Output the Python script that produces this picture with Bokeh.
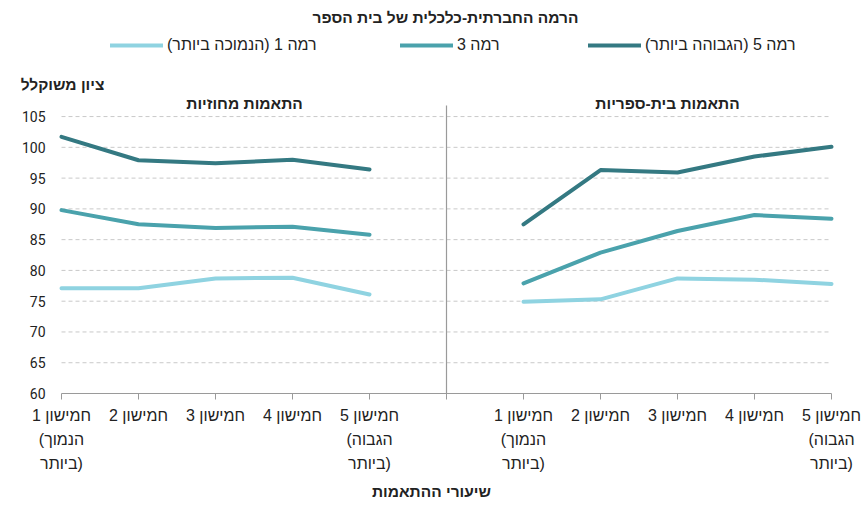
from bokeh.plotting import figure
from bokeh.models import Range1d, FixedTicker, Legend, LegendItem, Label
from bokeh.core.properties import value
from bokeh.embed import file_html
from bokeh.resources import INLINE

# ---- data ----
tick_labels = ["חמישון 1\n(הנמוך\nביותר)", "חמישון 2", "חמישון 3", "חמישון 4", "חמישון 5\n(הגבוה\nביותר)"]
panel_titles = ["התאמות מחוזיות", "התאמות בית-ספריות"]
series_names = ["רמה 1 (הנמוכה ביותר)", "רמה 3", "רמה 5 (הגבוהה ביותר)"]
district_l1 = [77.1, 77.1, 78.7, 78.8, 76.1]
district_l3 = [89.8, 87.5, 86.9, 87.1, 85.8]
district_l5 = [101.7, 97.9, 97.4, 98.0, 96.4]
school_l1 = [74.9, 75.3, 78.7, 78.5, 77.8]
school_l3 = [77.9, 82.9, 86.4, 89.0, 88.4]
school_l5 = [87.5, 96.3, 95.9, 98.5, 100.1]
y_ticks = [60, 65, 70, 75, 80, 85, 90, 95, 100, 105]

colors = ["#8fd3e1", "#4aa2ac", "#347982"]
FONT = "Liberation Sans"
TXT = "#222222"
LRI, PDI, RLM = "\u2066", "\u2069", "\u200f"

# ---- geometry (page pixels) ----
W, H = 862, 510
FL, FR = 61, 831              # x of first / last category
Y0_PX, PX_PER_Y = 393, 6.154  # y of value 60, pixels per unit
n = len(tick_labels)
ncat = 2 * n
PX_PER_X = (FR - FL) / ncat

def xd(px):   # page x -> data x
    return (px - FL) / PX_PER_X

def yd(py):   # page y -> data y
    return y_ticks[0] + (Y0_PX - py) / PX_PER_Y

left_x = list(range(n))
divider = n
right_x = [divider + 1 + i for i in range(n)]

p = figure(width=W, height=H, output_backend="svg", toolbar_location=None,
           x_range=Range1d(xd(0), xd(W)), y_range=Range1d(y_ticks[0], yd(0)),
           min_border_left=0, min_border_right=0, min_border_top=0, min_border_bottom=H - Y0_PX)
p.outline_line_color = None
p.xgrid.grid_line_color = None
p.ygrid.grid_line_color = None
p.yaxis.visible = False

# horizontal dashed grid lines over the category span
gy = y_ticks[1:]
p.segment(x0=[0] * len(gy), x1=[ncat] * len(gy), y0=gy, y1=gy,
          line_color="#c9c9c9", line_width=1, line_dash="4 3")

# y tick labels (overlay level so the bottom one is not clipped by the frame)
p.text(x=[xd(45)] * len(y_ticks), y=y_ticks, text=[str(t) for t in y_ticks],
       text_font=value("Roboto"), text_font_size="14px", text_color=TXT,
       text_align="right", text_baseline="middle", level="overlay")

# panel divider
p.segment(x0=[divider], y0=[y_ticks[0]], x1=[divider], y1=[yd(105)],
          line_color="#9a9a9a", line_width=1.2)

renderers = []
for vals_l, vals_r, c in zip([district_l1, district_l3, district_l5],
                             [school_l1, school_l3, school_l5], colors):
    r = p.line(left_x, vals_l, line_color=c, line_width=4, line_cap="round", line_join="round")
    p.line(right_x, vals_r, line_color=c, line_width=4, line_cap="round", line_join="round")
    renderers.append(r)

# x axis
xa = p.xaxis[0]
xa.bounds = (0, ncat)
xa.ticker = FixedTicker(ticks=list(range(ncat + 1)))
ov = {}
for i, lab in enumerate(tick_labels):
    txt = "\n".join(LRI + part + PDI for part in lab.split("\n"))
    ov[left_x[i]] = txt
    ov[right_x[i]] = txt
ov[divider] = ""
xa.major_label_overrides = ov
xa.axis_line_color = "#9a9a9a"
xa.major_tick_line_color = "#9a9a9a"
xa.major_tick_out = 6
xa.major_tick_in = 0
xa.minor_tick_line_color = None
xa.major_label_text_font = FONT
xa.major_label_text_font_size = "16px"
xa.major_label_text_color = TXT
xa.major_label_standoff = 7
xa.major_label_text_line_height = 1.42
xa.axis_label = "שיעורי ההתאמות"
xa.axis_label_text_font = FONT
xa.axis_label_text_font_size = "15.5px"
xa.axis_label_text_font_style = "bold"
xa.axis_label_text_color = TXT
xa.axis_label_standoff = 8

# legend: one legend per entry, placed like the reference
for name, r, gx in zip(series_names, renderers, [110, 400, 588]):
    lg = Legend(items=[LegendItem(label=name + RLM, renderers=[r])],
                location=(gx, Y0_PX - 55), padding=0, margin=0,
                glyph_width=53, glyph_height=20, label_standoff=4, label_height=20,
                label_text_font=FONT, label_text_font_size="16px", label_text_color=TXT,
                label_text_baseline="middle",
                border_line_color=None, background_fill_alpha=0)
    p.add_layout(lg, "center")

def lab(text, x, y):
    p.add_layout(Label(x=x, y=y, text=text, text_font=FONT, text_font_size="15.5px",
                       text_font_style="bold", text_color=TXT, text_align="center",
                       text_baseline="middle"))

lab("הרמה החברתית-כלכלית של בית הספר", xd(445), yd(17))
lab("ציון משוקלל", xd(62), yd(84))
lab(panel_titles[0], xd(244), yd(103))
lab(panel_titles[1], xd(667), yd(103))

open("out.html", "w").write(file_html(p, INLINE))
